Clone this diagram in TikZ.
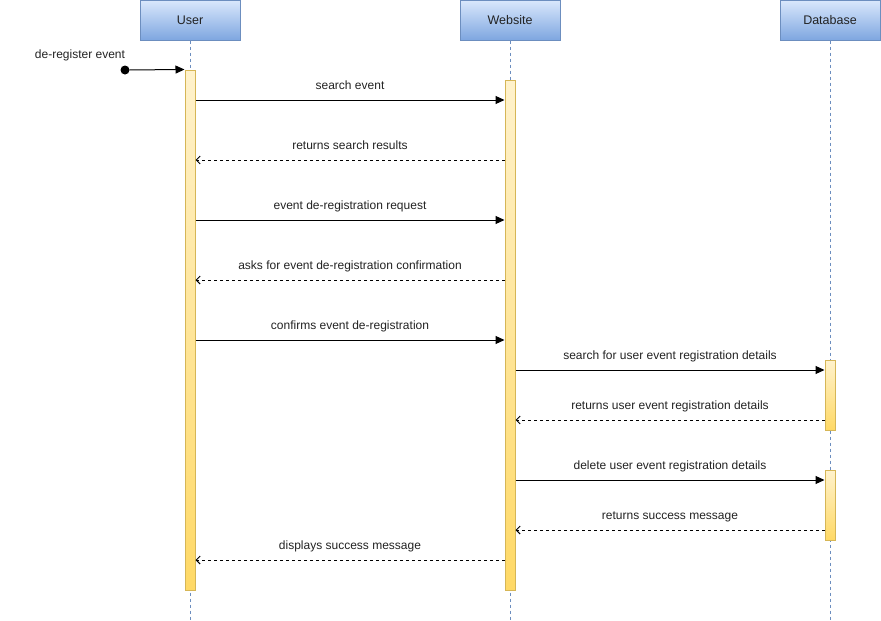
\documentclass[tikz,border=0pt]{standalone}
\usepackage{fontspec}
\setmainfont{Liberation Sans}
\usetikzlibrary{arrows.meta,positioning}
\definecolor{headtop}{HTML}{DAE8FC}
\definecolor{headbot}{HTML}{7EA6E0}
\definecolor{headline}{HTML}{6C8EBF}
\definecolor{bartop}{HTML}{FFF2CC}
\definecolor{barbot}{HTML}{FFD966}
\definecolor{barline}{HTML}{D6B656}
\definecolor{txt}{HTML}{222222}

\begin{document}
\begin{tikzpicture}[
    x=1pt, y=-1pt,
    font=\fontsize{12}{14}\selectfont,
    text=txt,
    head/.style={
        draw=headline,
        top color=headtop,
        bottom color=headbot,
        minimum width=100pt,
        minimum height=40pt,
        inner sep=0pt,
        line width=1pt,
        font=\fontsize{12.5}{14}\selectfont
    },
    bar/.style={
        draw=barline,
        top color=bartop,
        bottom color=barbot,
        minimum width=10pt,
        line width=1pt,
        inner sep=0pt
    },
    life/.style={draw=headline, line width=1pt, dash pattern=on 3pt off 3pt},
    call/.style={line width=1pt, -{Triangle[length=9pt,width=8pt]}},
    reply/.style={line width=1pt, dash pattern=on 3pt off 3pt, -{Straight Barb[length=4pt,width=8pt]}},
    lbl/.style={midway, anchor=base, yshift=11pt, inner sep=0pt}
]
\useasboundingbox (0,0) rectangle (881,621);

% lifeline heads
\node[head] (user) at (190,20) {User};
\node[head] (web) at (510,20) {Website};
\node[head] (db) at (830,20) {Database};
\coordinate (bottom) at (0,620);

\draw[life] (user.south) -- (user.south |- bottom);
\draw[life] (web.south) -- (web.south |- bottom);
\draw[life] (db.south) -- (db.south |- bottom);

% activations
\node[bar, minimum height=520pt] (ubar) at (190,330) {};
\node[bar, minimum height=510pt] (wbar) at (510,335) {};
\node[bar, minimum height=70pt] (dbar1) at (830,395) {};
\node[bar, minimum height=70pt] (dbar2) at (830,505) {};

% found message
\node[circle, fill=black, inner sep=0pt, minimum size=9pt] (start) at (125,70) {};
\node[inner sep=0pt] (startlbl) at (80,55) {de-register event};
\draw[call] (start) -- (ubar.north west);

% messages
\coordinate (m1) at (0,100);
\coordinate (m2) at (0,160);
\coordinate (m3) at (0,220);
\coordinate (m4) at (0,280);
\coordinate (m5) at (0,340);
\coordinate (m6) at (0,370);
\coordinate (m7) at (0,420);
\coordinate (m8) at (0,480);
\coordinate (m9) at (0,530);
\coordinate (m10) at (0,560);

\draw[call] (ubar.east |- m1) -- (wbar.west |- m1) node[lbl] {search event};
\draw[reply] (wbar.west |- m2) -- (ubar.east |- m2) node[lbl] {returns search results};
\draw[call] (ubar.east |- m3) -- (wbar.west |- m3) node[lbl] {event de-registration request};
\draw[reply] (wbar.west |- m4) -- (ubar.east |- m4) node[lbl] {asks for event de-registration confirmation};
\draw[call] (ubar.east |- m5) -- (wbar.west |- m5) node[lbl] {confirms event de-registration};
\draw[call] (wbar.east |- m6) -- (dbar1.west |- m6) node[lbl] {search for user event registration details};
\draw[reply] (dbar1.west |- m7) -- (wbar.east |- m7) node[lbl] {returns user event registration details};
\draw[call] (wbar.east |- m8) -- (dbar2.west |- m8) node[lbl] {delete user event registration details};
\draw[reply] (dbar2.west |- m9) -- (wbar.east |- m9) node[lbl] {returns success message};
\draw[reply] (wbar.west |- m10) -- (ubar.east |- m10) node[lbl] {displays success message};
\end{tikzpicture}
\end{document}
